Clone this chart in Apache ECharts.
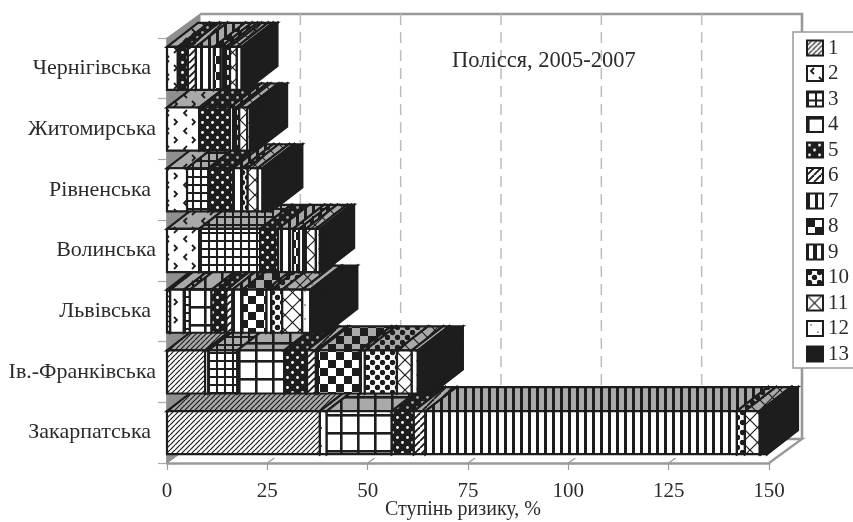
<!DOCTYPE html>
<html><head><meta charset="utf-8">
<style>html,body{margin:0;padding:0;background:#fff}#c{width:853px;height:522px}</style>
<script src="https://cdn.jsdelivr.net/npm/echarts@6/dist/echarts.min.js"></script>
</head><body><div id="c"></div>
<script>
const categories = ['Закарпатська','Ів.-Франківська','Львівська','Волинська','Рівненська','Житомирська','Чернігівська'];
const xTicks = [0,25,50,75,100,125,150];
const s1  = [38.1, 9.5, 0.8, 0, 0, 0, 0];
const s2  = [1.7, 0.8, 3.4, 8, 5, 8, 2.7];
const s3  = [0, 7.2, 1.5, 15.2, 5.3, 0, 0];
const s4  = [16.2, 11.7, 5.4, 0, 0, 0, 0];
const s5  = [5.5, 5.7, 3.7, 4.5, 6.2, 7.7, 2.5];
const s6  = [2.9, 2.2, 1.5, 0, 0, 0, 2];
const s7  = [77.6, 0.5, 2.5, 3.7, 2.2, 1.5, 4.5];
const s8  = [0, 10.5, 6, 1.5, 0, 0, 1.7];
const s9  = [0, 1.2, 1.2, 1.7, 0, 0, 1.3];
const s10 = [2, 8, 2.7, 0, 1.4, 0.8, 1];
const s11 = [3.7, 3.7, 5, 2.5, 2.5, 2, 1.7];
const s12 = [0.3, 1.5, 2, 1, 1.2, 0.7, 1.2];
const s13 = [1.5, 3.5, 4, 0.8, 2.2, 1.5, 1.2];
const seriesValues = [s1,s2,s3,s4,s5,s6,s7,s8,s9,s10,s11,s12,s13];
const legendLabels = ['1','2','3','4','5','6','7','8','9','10','11','12','13'];

const INK = '#1d1d1d', GREY = '#8f8f8f', TOPBG = '#a9a9a9';
const BAR_DX = 31, BAR_DY = 24, WALL_DX = 33, WALL_DY = 24, BAR_RATIO = 0.71;
const FONT = '"Liberation Serif","Times New Roman",serif';
// right inset of each category label, as set in the reference
const labelInsets = [5, 0, 5, 0, 5, 0, 5];

function tile(w, h, bg, draw) {
  const c = document.createElement('canvas'); c.width = w; c.height = h;
  const g = c.getContext('2d');
  g.fillStyle = bg; g.fillRect(0,0,w,h);
  g.strokeStyle = INK; g.fillStyle = INK; g.lineCap = 'butt';
  draw(g, w, h);
  return {image: c, repeat: 'repeat'};
}
function line(g, lw, pts) { g.lineWidth = lw; g.beginPath(); pts.forEach((p,i)=> i? g.lineTo(p[0],p[1]) : g.moveTo(p[0],p[1])); g.stroke(); }
function hatch(g, w, lw) { for (let k=-1;k<=1;k++) line(g, lw, [[k*w, w],[k*w+w, 0]]); }
function dot(g, x, y, r) { g.beginPath(); g.arc(x,y,r,0,Math.PI*2); g.fill(); }
const painters = [
  bg => tile(5,5,bg,(g,w)=>hatch(g,w,1.2)),
  bg => tile(18,18,bg,g=>{ line(g,1.8,[[7,2],[4,5],[7,8]]); line(g,1.8,[[12,11],[15,14],[12,17]]); }),
  bg => tile(8,8,bg,(g)=>{ g.fillRect(0,0,2,8); g.fillRect(0,0,8,2); }),
  bg => tile(17,18,bg,(g)=>{ g.fillRect(0,0,2.6,18); g.fillRect(0,0,17,2.6); }),
  bg => tile(10,10,INK,(g)=>{ g.fillStyle = bg; dot(g,2.5,2.5,1.4); dot(g,7.5,7.5,1.4); }),
  bg => tile(7,7,bg,(g,w)=>hatch(g,w,1.9)),
  bg => tile(8,8,bg,(g)=>{ g.fillRect(0,0,3,8); }),
  bg => tile(16,16,bg,(g)=>{ g.fillRect(0,0,8,8); g.fillRect(8,8,8,8); }),
  bg => tile(8,8,INK,(g)=>{ g.fillStyle = bg; g.fillRect(2,0,4,8); }),
  bg => tile(10,10,bg,(g)=>{ dot(g,2.5,2.5,2.7); dot(g,7.5,7.5,2.7); }),
  bg => tile(15,15,bg,(g,w)=>{ hatch(g,w,1.2); line(g,1.2,[[-1,-1],[16,16]]); }),
  bg => tile(14,14,bg,(g)=>{ dot(g,4,4,0.7); dot(g,11,11,0.7); }),
  () => tile(4,4,INK,()=>{})
];
const frontPatterns = painters.map(p => p('#ffffff'));
const topPatterns = painters.map(p => p(TOPBG));

function renderBar(seriesIdx) {
  return function (params, api) {
    const base = api.value(0), val = api.value(1), cat = api.value(2);
    if (!val) return null;
    const start = api.coord([base, cat]), end = api.coord([base + val, cat]);
    const h = api.size([0, 1])[1] * BAR_RATIO;
    const x0 = start[0], x1 = end[0], yt = start[1] - h/2, yb = start[1] + h/2;
    const order = cat * 100 + seriesIdx * 3;
    const border = {stroke: INK, lineWidth: 2.2};
    return {type: 'group', children: [
      {type:'polygon', z2: order, shape:{points:[[x1,yt],[x1+BAR_DX,yt-BAR_DY],[x1+BAR_DX,yb-BAR_DY],[x1,yb]]},
        style:{fill: INK, stroke: INK, lineWidth: 2.2}},
      {type:'polygon', z2: order+1, shape:{points:[[x0,yt],[x1,yt],[x1+BAR_DX,yt-BAR_DY],[x0+BAR_DX,yt-BAR_DY]]},
        style:Object.assign({fill: topPatterns[seriesIdx]}, border)},
      {type:'rect', z2: order+2, shape:{x:x0,y:yt,width:x1-x0,height:h},
        style:Object.assign({fill: frontPatterns[seriesIdx]}, border)}
    ]};
  };
}
function renderFrame(params, api) {
  const tick = api.value(0);
  const band = api.size([0, 1])[1];
  const px = api.coord([tick, 0])[0];
  const bottom = api.coord([tick, 0])[1] + band/2;
  const top = api.coord([tick, categories.length - 1])[1] - band/2;
  const kids = [];
  if (tick === xTicks[0]) {
    const right = api.coord([xTicks[xTicks.length-1], 0])[0];
    kids.push({type:'polygon', z2:-5, shape:{points:[[px,top],[px+WALL_DX,top-WALL_DY],[px+WALL_DX,bottom-WALL_DY],[px,bottom]]},
      style:{fill:GREY, stroke:GREY, lineWidth:1}});
    kids.push({type:'polyline', z2:-4, shape:{points:[[px+WALL_DX,top-WALL_DY],[right+WALL_DX,top-WALL_DY],[right+WALL_DX,bottom-WALL_DY]]},
      style:{fill:'none', stroke:'#999', lineWidth:2.6}});
    kids.push({type:'polyline', z2:-4, shape:{points:[[px+WALL_DX,bottom-WALL_DY],[right+WALL_DX,bottom-WALL_DY],[right,bottom]]},
      style:{fill:'none', stroke:'#999', lineWidth:2.4}});
  } else if (tick !== xTicks[xTicks.length-1]) {
    kids.push({type:'line', z2:-3, shape:{x1:px+WALL_DX,y1:top-WALL_DY,x2:px+WALL_DX,y2:bottom-WALL_DY},
      style:{stroke:'#bdbdbd', lineWidth:1.5, lineDash:[11,7]}});
    kids.push({type:'line', z2:-3, shape:{x1:px,y1:bottom,x2:px+7,y2:bottom-5},
      style:{stroke:'#999', lineWidth:1.2}});
  }
  return {type:'group', children:kids};
}

const barSeries = seriesValues.map((vals, si) => ({
  name: legendLabels[si], type: 'custom', coordinateSystem: 'cartesian2d', silent: true, z: 3, clip: false,
  renderItem: renderBar(si),
  encode: {x: 0, y: 2},
  itemStyle: {color: frontPatterns[si], borderColor: INK, borderWidth: 3.2},
  data: vals.map((v, ci) => {
    let base = 0;
    for (let k = 0; k < si; k++) base += seriesValues[k][ci];
    return [base, v, ci];
  })
}));

const chart = echarts.init(document.getElementById('c'), null, {renderer:'canvas'});
chart.setOption({
  animation: false,
  backgroundColor: '#fff',
  title: {text:'Полісся, 2005-2007', left: 447, top: 45,
    textStyle:{fontFamily:FONT, fontSize:22.5, fontWeight:'normal', color:'#2b2b2b'}},
  grid: {left:167, top:38, width:602, height:425, containLabel:false, outerBoundsMode:'none'},
  legend: {orient:'vertical', left:793, top:32, padding:[5.5,12,3.5,13], itemWidth:16, itemHeight:15, itemGap:4.5, itemTextGap:6,
    icon:'rect', backgroundColor:'#fff', borderColor:'#999', borderWidth:1.5, z:20, selectedMode:false,
    data: legendLabels,
    textStyle:{fontFamily:FONT, fontSize:21, color:'#2b2b2b'}},
  xAxis: {type:'value', min:0, max:150, interval:25,
    name:'Ступінь ризику, %', nameLocation:'middle', nameGap:37, nameMoveOverlap:false,
    nameTextStyle:{fontFamily:FONT, fontSize:20, color:'#2b2b2b', padding:[0,10,0,0]},
    axisLine:{show:true, lineStyle:{color:'#999', width:2.6}},
    axisTick:{show:true, length:7, lineStyle:{color:'#999', width:1.2}},
    axisLabel:{margin:18, fontFamily:FONT, fontSize:21, color:'#2b2b2b'},
    splitLine:{show:false}},
  yAxis: {type:'category',
    data: categories.map((name, i) => ({value: name, textStyle: {padding: [2, labelInsets[i], 0, 0]}})),
    axisLine:{show:true, lineStyle:{color:'#999', width:1.5}},
    axisTick:{show:true, length:9, lineStyle:{color:'#aaa', width:1.2}},
    axisLabel:{margin:11, fontFamily:FONT, fontSize:22, color:'#2b2b2b'},
    splitLine:{show:false}},
  series: [{type:'custom', name:'frame', coordinateSystem:'cartesian2d', silent:true, z:1, clip:false,
      renderItem: renderFrame, encode:{x:0, y:1}, data: xTicks.map(t => [t, 0])}].concat(barSeries)
});
</script></body></html>
